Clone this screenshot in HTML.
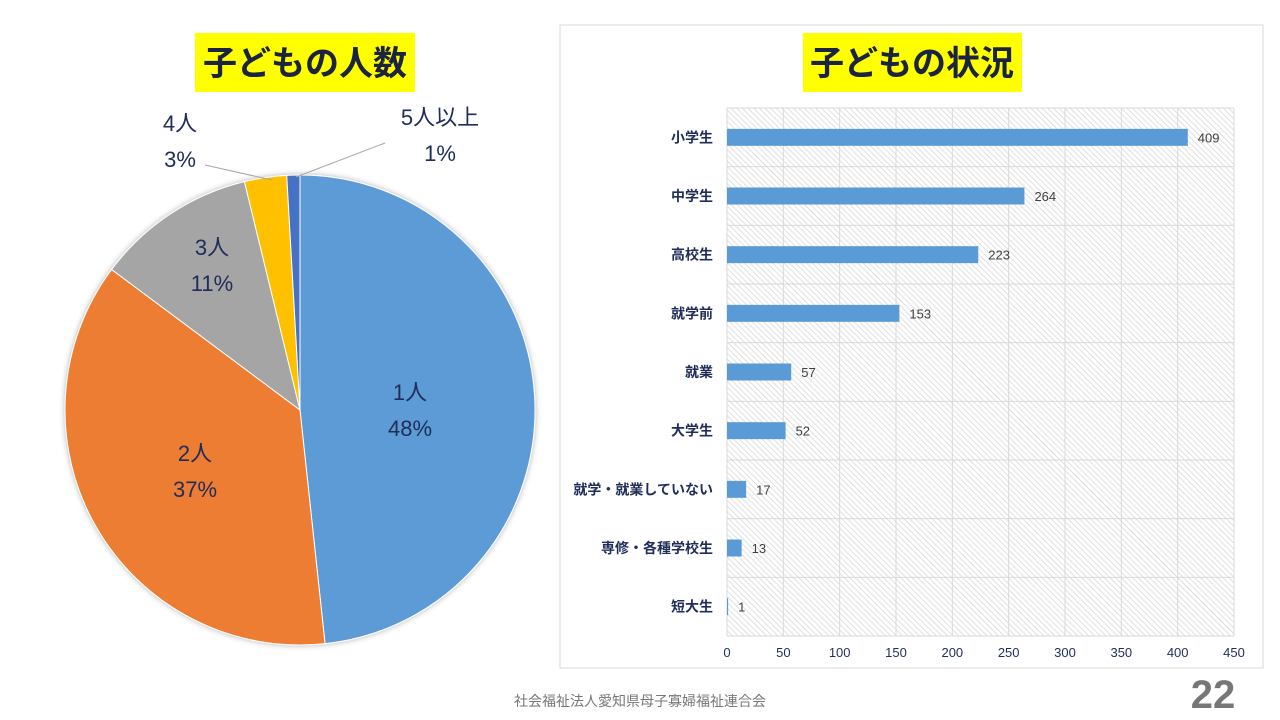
<!DOCTYPE html>
<html><head><meta charset="utf-8">
<style>
body{margin:0;width:1280px;height:720px;background:#fff;overflow:hidden;font-family:"Liberation Sans","Noto Sans CJK JP",sans-serif;}
svg{position:absolute;left:0;top:0}
</style></head>
<body>
<svg id="s" width="1280" height="720" xmlns="http://www.w3.org/2000/svg">
<defs>
<pattern id="hatch" width="4" height="4" patternUnits="userSpaceOnUse" patternTransform="rotate(-45)">
<rect width="4" height="4" fill="#fff"/><line x1="0" y1="0" x2="0" y2="4" stroke="#d0d0d0" stroke-width="1.3"/>
</pattern>
<filter id="sh" x="-10%" y="-10%" width="120%" height="120%"><feDropShadow dx="0" dy="0" stdDeviation="3" flood-color="#000" flood-opacity="0.3"/></filter>
</defs>
<rect x="195" y="33" width="220" height="59" fill="#ffff00"/>
<text x="305" y="75" text-anchor="middle" font-size="34" font-weight="bold" fill="#1a2340">子どもの人数</text>
<rect x="560" y="25" width="703" height="643" fill="none" stroke="#d9d9d9"/>
<rect x="803" y="33" width="219" height="59" fill="#ffff00"/>
<text x="912" y="75" text-anchor="middle" font-size="34" font-weight="bold" fill="#1a2340">子どもの状況</text>
<g id="pie" filter="url(#sh)"></g>
<g id="pielabels"></g>
<g id="bar"></g>
<text x="640" y="706" text-anchor="middle" font-size="14" fill="#777">社会福祉法人愛知県母子寡婦福祉連合会</text>
<text x="1213" y="708" text-anchor="middle" font-size="40" font-weight="bold" fill="#777">22</text>
</svg>
<script>
const pieCats=["1人","2人","3人","4人","5人以上"];
const pieVals=[48.3,36.9,11.0,2.9,0.9];
const pieLbls=["48%","37%","11%","3%","1%"];
const barCats=["小学生","中学生","高校生","就学前","就業","大学生","就学・就業していない","専修・各種学校生","短大生"];
const barVals=[409,264,223,153,57,52,17,13,1];
const xTicks=[0,50,100,150,200,250,300,350,400,450];
const NS="http://www.w3.org/2000/svg";
function mk(t,a,p){const e=document.createElementNS(NS,t);for(const k in a)e.setAttribute(k,a[k]);p.appendChild(e);return e;}
const cx=300,cy=410,R=235,colors=["#5b9bd5","#ed7d31","#a5a5a5","#ffc000","#4472c4"];
const pie=document.getElementById('pie'),pl=document.getElementById('pielabels');
const tot=pieVals.reduce((a,b)=>a+b,0);
let acc=0;
const lpos=[[410,392],[195,453],[212,247],[180,123],[440,117]];
pieVals.forEach((v,i)=>{
 const a0=acc/tot*2*Math.PI;acc+=v;const a1=acc/tot*2*Math.PI;
 const p=(a)=>[cx+R*Math.sin(a),cy-R*Math.cos(a)];
 const [x0,y0]=p(a0),[x1,y1]=p(a1);
 const s=mk('path',{d:`M${cx},${cy}L${x0},${y0}A${R},${R} 0 ${a1-a0>Math.PI?1:0} 1 ${x1},${y1}Z`,fill:colors[i],stroke:'#fff','stroke-width':1},pie);
 
 
 const [lx,ly]=lpos[i];
 const t1=mk('text',{x:lx,y:ly+8,'text-anchor':'middle','font-size':22,fill:'#1f2d5a'},pl);t1.textContent=pieCats[i];
 
 
 const t2=mk('text',{x:lx,y:ly+44,'text-anchor':'middle','font-size':22,fill:'#1f2d5a'},pl);t2.textContent=pieLbls[i];
 
 
});
const l1=mk('polyline',{points:'205,165 272,180',stroke:'#a6a6a6',fill:'none'},pl);


const l2=mk('polyline',{points:'385,143 296,177',stroke:'#a6a6a6',fill:'none'},pl);


const bar=document.getElementById('bar');
const X0=727,X1=1234,Y0=108,Y1=636,xmax=450;
const xs=v=>X0+(v/xmax)*(X1-X0);
const band=(Y1-Y0)/barCats.length;
const bg=mk('rect',{x:X0,y:Y0,width:X1-X0,height:Y1-Y0,fill:'url(#hatch)'},bar);


xTicks.forEach(t=>{
 const g=mk('line',{x1:xs(t),x2:xs(t),y1:Y0,y2:Y1,stroke:'#d9d9d9'},bar);
 
 
 const tx=mk('text',{x:xs(t),y:Y1+21,'text-anchor':'middle','font-size':13,fill:'#1f2d5a'},bar);tx.textContent=t;
 
 
});
for(let i=0;i<=barCats.length;i++){
 const g=mk('line',{x1:X0,x2:X1,y1:Y0+i*band,y2:Y0+i*band,stroke:'#d9d9d9'},bar);
 
 
}
barCats.forEach((c,i)=>{
 const yc=Y0+band*(i+0.5);
 const r=mk('rect',{x:X0,y:yc-8.5,width:xs(barVals[i])-X0,height:17,fill:'#5b9bd5'},bar);
 
 
 const cl=mk('text',{x:713,y:yc+5,'text-anchor':'end','font-size':14,'font-weight':'bold',fill:'#1f2d5a'},bar);cl.textContent=c;
 
 
 const vl=mk('text',{x:xs(barVals[i])+10,y:yc+5,'font-size':13,fill:'#404040'},bar);vl.textContent=barVals[i];
 
 
});
</script>
</body></html>
